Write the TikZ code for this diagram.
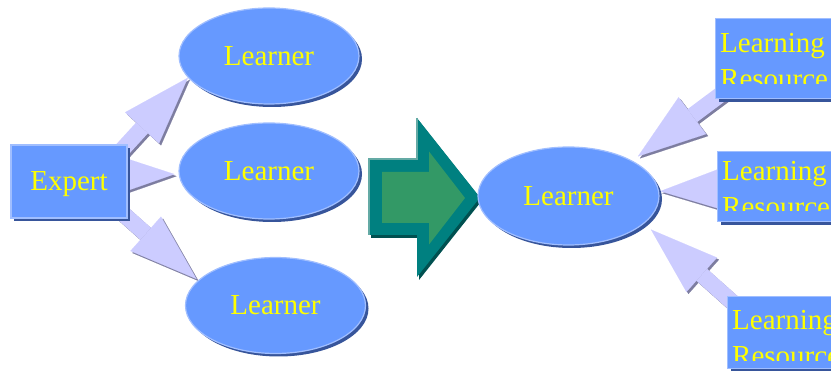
\documentclass[tikz,border=0pt]{standalone}
\usepackage{fontspec}
\setmainfont{Liberation Serif}
\usetikzlibrary{shapes.geometric,arrows.meta,shadows,calc,backgrounds}

\definecolor{boxblue}{RGB}{102,153,255}
\definecolor{rimblue}{RGB}{160,190,255}
\definecolor{shadeblue}{RGB}{55,85,155}
\definecolor{textyellow}{RGB}{255,255,0}
\definecolor{arrowlav}{RGB}{204,204,255}
\definecolor{lavshade}{RGB}{125,125,160}
\definecolor{arrowteal}{RGB}{0,128,128}
\definecolor{tealdark}{RGB}{0,80,80}
\definecolor{teallight}{RGB}{100,170,165}
\definecolor{arrowgreen}{RGB}{51,153,102}

\begin{document}
\begin{tikzpicture}[x=1pt,y=-1pt,
  every node/.style={font=\fontsize{29}{36}\selectfont, text=textyellow},
  learner/.style={ellipse, fill=boxblue, draw=rimblue, line width=1.2pt,
    minimum width=180pt, minimum height=96pt, inner sep=0pt,
    drop shadow={shadow xshift=3pt, shadow yshift=-3pt, fill=shadeblue, opacity=1}},
  bluebox/.style={rectangle, fill=boxblue, draw=rimblue, line width=1.2pt, inner sep=0pt,
    drop shadow={shadow xshift=3pt, shadow yshift=-3pt, fill=shadeblue, opacity=1}},
  restext/.style={align=left, inner sep=0pt},
  fat/.style={line width=16pt, color=arrowlav,
    -{Triangle[length=68pt,width=46pt,line width=0.1pt]}},
  fatshade/.style={fat, color=lavshade, transform canvas={shift={(2pt,-2pt)}}}]

\useasboundingbox (0,0) rectangle (831,371);

% Left side: one expert, three learners
\node[bluebox, minimum width=116pt, minimum height=73pt, text depth=0pt] (expert) at (69,181.5) {Expert};
\node[learner] (l1) at (269,56) {Learner};
\node[learner] (l2) at (269,171) {Learner};
\node[learner] (l3) at (275.5,305.5) {Learner};

% Big arrow in the middle
\fill[tealdark, shift={(2,3)}] (369,159) -- (417,159) -- (417,118) -- (480,197.5) -- (417,277) -- (417,235) -- (369,235) -- cycle;
\fill[arrowteal] (369,159) -- (417,159) -- (417,118) -- (480,197.5) -- (417,277) -- (417,235) -- (369,235) -- cycle;
\draw[teallight, line width=1.5pt] (369,235) -- (369,159) -- (417,159) -- (417,118);
\fill[arrowgreen] (382,172) -- (429,172) -- (429,151.5) -- (465,198) -- (429,244.5) -- (429,223) -- (382,223) -- cycle;

% Right side: one learner, three resources
\node[learner, minimum width=181pt, minimum height=98pt] (rl) at (568.5,196) {Learner};
\node[bluebox, anchor=north west, minimum width=140pt, minimum height=80pt] (rs1) at (715,18) {};
\node[bluebox, anchor=north west, minimum width=140pt, minimum height=70pt] (rs2) at (717,151) {};
\node[bluebox, anchor=north west, minimum width=140pt, minimum height=72pt] (rs3) at (727,296) {};

\foreach \n/\dy in {rs1/15.5, rs2/10, rs3/14.5} {
  \begin{scope}
    \clip (\n.north west) rectangle ($(\n.north east)+(0,\dy+50)$);
    \node[restext, anchor=north west] (\n-text) at ($(\n.north west)+(5,\dy)$) {Learning\\Resource};
  \end{scope}
}

% Arrow ends
\coordinate (e1) at ($(expert.north east)+(-8,8)$);
\coordinate (e2) at ($(expert.east)+(-30,-6.5)$);
\coordinate (e3) at ($(expert.south east)+(-8,-8)$);
\coordinate (r1) at ($(rs1.south west)+(10,-8)$);
\coordinate (r2) at ($(rs2.west)+(15,2)$);
\coordinate (r3) at ($(rs3.north west)+(12,12)$);

\begin{scope}[on background layer]
\foreach \a/\b/\s in {e1/l1.195/0, e2/l2.182/4, e3/l3.162/2, r1/rl.29/7, r2/rl.3/1, r3/rl.340/9} {
  \draw[fatshade, shorten >=\s pt] (\a) -- (\b);
  \draw[fat, shorten >=\s pt] (\a) -- (\b);
}
\end{scope}

\end{tikzpicture}
\end{document}
